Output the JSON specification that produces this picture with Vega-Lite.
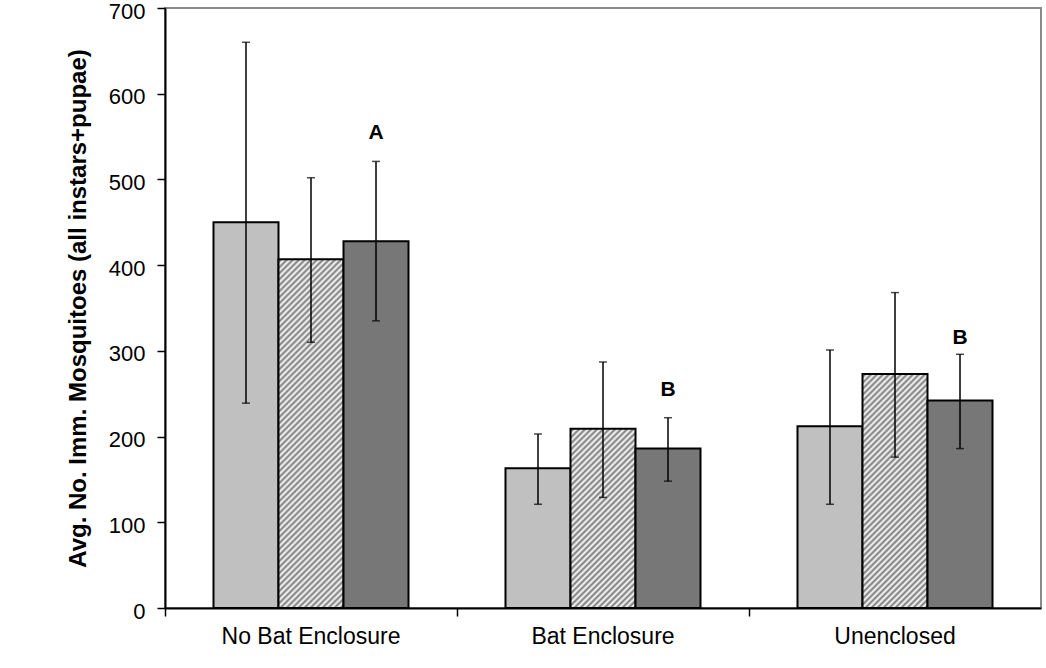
{
  "$schema": "https://vega.github.io/schema/vega-lite/v6.json",
  "width": 876,
  "height": 600,
  "autosize": "none",
  "padding": {"left": 165, "top": 8, "right": 5, "bottom": 60},
  "background": "white",
  "config": {
    "view": {"stroke": "#8a8a8a", "strokeWidth": 2},
    "font": "Liberation Sans"
  },
  "params": [
    {"name": "hatch", "value": [
      {"offset":0,"color":"#fff"},{"offset":0.005,"color":"#777"},{"offset":0.01,"color":"#fff"},{"offset":0.015,"color":"#777"},
      {"offset":0.02,"color":"#fff"},{"offset":0.025,"color":"#777"},{"offset":0.03,"color":"#fff"},{"offset":0.035,"color":"#777"},
      {"offset":0.04,"color":"#fff"},{"offset":0.045,"color":"#777"},{"offset":0.05,"color":"#fff"},{"offset":0.055,"color":"#777"},
      {"offset":0.06,"color":"#fff"},{"offset":0.065,"color":"#777"},{"offset":0.07,"color":"#fff"},{"offset":0.075,"color":"#777"},
      {"offset":0.08,"color":"#fff"},{"offset":0.085,"color":"#777"},{"offset":0.09,"color":"#fff"},{"offset":0.095,"color":"#777"},
      {"offset":0.1,"color":"#fff"},{"offset":0.105,"color":"#777"},{"offset":0.11,"color":"#fff"},{"offset":0.115,"color":"#777"},
      {"offset":0.12,"color":"#fff"},{"offset":0.125,"color":"#777"},{"offset":0.13,"color":"#fff"},{"offset":0.135,"color":"#777"},
      {"offset":0.14,"color":"#fff"},{"offset":0.145,"color":"#777"},{"offset":0.15,"color":"#fff"},{"offset":0.155,"color":"#777"},
      {"offset":0.16,"color":"#fff"},{"offset":0.165,"color":"#777"},{"offset":0.17,"color":"#fff"},{"offset":0.175,"color":"#777"},
      {"offset":0.18,"color":"#fff"},{"offset":0.185,"color":"#777"},{"offset":0.19,"color":"#fff"},{"offset":0.195,"color":"#777"},
      {"offset":0.2,"color":"#fff"},{"offset":0.205,"color":"#777"},{"offset":0.21,"color":"#fff"},{"offset":0.215,"color":"#777"},
      {"offset":0.22,"color":"#fff"},{"offset":0.225,"color":"#777"},{"offset":0.23,"color":"#fff"},{"offset":0.235,"color":"#777"},
      {"offset":0.24,"color":"#fff"},{"offset":0.245,"color":"#777"},{"offset":0.25,"color":"#fff"},{"offset":0.255,"color":"#777"},
      {"offset":0.26,"color":"#fff"},{"offset":0.265,"color":"#777"},{"offset":0.27,"color":"#fff"},{"offset":0.275,"color":"#777"},
      {"offset":0.28,"color":"#fff"},{"offset":0.285,"color":"#777"},{"offset":0.29,"color":"#fff"},{"offset":0.295,"color":"#777"},
      {"offset":0.3,"color":"#fff"},{"offset":0.305,"color":"#777"},{"offset":0.31,"color":"#fff"},{"offset":0.315,"color":"#777"},
      {"offset":0.32,"color":"#fff"},{"offset":0.325,"color":"#777"},{"offset":0.33,"color":"#fff"},{"offset":0.335,"color":"#777"},
      {"offset":0.34,"color":"#fff"},{"offset":0.345,"color":"#777"},{"offset":0.35,"color":"#fff"},{"offset":0.355,"color":"#777"},
      {"offset":0.36,"color":"#fff"},{"offset":0.365,"color":"#777"},{"offset":0.37,"color":"#fff"},{"offset":0.375,"color":"#777"},
      {"offset":0.38,"color":"#fff"},{"offset":0.385,"color":"#777"},{"offset":0.39,"color":"#fff"},{"offset":0.395,"color":"#777"},
      {"offset":0.4,"color":"#fff"},{"offset":0.405,"color":"#777"},{"offset":0.41,"color":"#fff"},{"offset":0.415,"color":"#777"},
      {"offset":0.42,"color":"#fff"},{"offset":0.425,"color":"#777"},{"offset":0.43,"color":"#fff"},{"offset":0.435,"color":"#777"},
      {"offset":0.44,"color":"#fff"},{"offset":0.445,"color":"#777"},{"offset":0.45,"color":"#fff"},{"offset":0.455,"color":"#777"},
      {"offset":0.46,"color":"#fff"},{"offset":0.465,"color":"#777"},{"offset":0.47,"color":"#fff"},{"offset":0.475,"color":"#777"},
      {"offset":0.48,"color":"#fff"},{"offset":0.485,"color":"#777"},{"offset":0.49,"color":"#fff"},{"offset":0.495,"color":"#777"},
      {"offset":0.5,"color":"#fff"},{"offset":0.505,"color":"#777"},{"offset":0.51,"color":"#fff"},{"offset":0.515,"color":"#777"},
      {"offset":0.52,"color":"#fff"},{"offset":0.525,"color":"#777"},{"offset":0.53,"color":"#fff"},{"offset":0.535,"color":"#777"},
      {"offset":0.54,"color":"#fff"},{"offset":0.545,"color":"#777"},{"offset":0.55,"color":"#fff"},{"offset":0.555,"color":"#777"},
      {"offset":0.56,"color":"#fff"},{"offset":0.565,"color":"#777"},{"offset":0.57,"color":"#fff"},{"offset":0.575,"color":"#777"},
      {"offset":0.58,"color":"#fff"},{"offset":0.585,"color":"#777"},{"offset":0.59,"color":"#fff"},{"offset":0.595,"color":"#777"},
      {"offset":0.6,"color":"#fff"},{"offset":0.605,"color":"#777"},{"offset":0.61,"color":"#fff"},{"offset":0.615,"color":"#777"},
      {"offset":0.62,"color":"#fff"},{"offset":0.625,"color":"#777"},{"offset":0.63,"color":"#fff"},{"offset":0.635,"color":"#777"},
      {"offset":0.64,"color":"#fff"},{"offset":0.645,"color":"#777"},{"offset":0.65,"color":"#fff"},{"offset":0.655,"color":"#777"},
      {"offset":0.66,"color":"#fff"},{"offset":0.665,"color":"#777"},{"offset":0.67,"color":"#fff"},{"offset":0.675,"color":"#777"},
      {"offset":0.68,"color":"#fff"},{"offset":0.685,"color":"#777"},{"offset":0.69,"color":"#fff"},{"offset":0.695,"color":"#777"},
      {"offset":0.7,"color":"#fff"}
    ]}
  ],
  "datasets": {
    "bars": [
      {"group":"No Bat Enclosure","series":"s1","mean":450,"lo":239,"hi":660},
      {"group":"No Bat Enclosure","series":"s2","mean":407,"lo":310,"hi":502},
      {"group":"No Bat Enclosure","series":"s3","mean":428,"lo":335,"hi":521},
      {"group":"Bat Enclosure","series":"s1","mean":163,"lo":121,"hi":203},
      {"group":"Bat Enclosure","series":"s2","mean":209,"lo":129,"hi":287},
      {"group":"Bat Enclosure","series":"s3","mean":186,"lo":148,"hi":222},
      {"group":"Unenclosed","series":"s1","mean":212,"lo":121,"hi":301},
      {"group":"Unenclosed","series":"s2","mean":273,"lo":176,"hi":368},
      {"group":"Unenclosed","series":"s3","mean":242,"lo":186,"hi":296}
    ],
    "letters": [
      {"group":"No Bat Enclosure","series":"s3","letter":"A","pos":554},
      {"group":"Bat Enclosure","series":"s3","letter":"B","pos":254},
      {"group":"Unenclosed","series":"s3","letter":"B","pos":315}
    ]
  },
  "encoding": {
    "x": {
      "field": "group", "type": "nominal", "sort": null,
      "scale": {"domain": ["No Bat Enclosure","Bat Enclosure","Unenclosed"], "paddingInner": 0, "paddingOuter": 0},
      "axis": {
        "title": null, "labelAngle": 0, "bandPosition": 0,
        "domainColor": "#000", "domainWidth": 2,
        "tickColor": "#000", "tickWidth": 1.5, "tickSize": 8,
        "labelFontSize": 23, "labelColor": "#000", "labelFont": "Liberation Sans", "labelPadding": 9
      }
    },
    "xOffset": {
      "field": "series", "type": "nominal",
      "scale": {"domain": ["s1","s2","s3"], "paddingInner": 0, "paddingOuter": 0.746}
    }
  },
  "layer": [
    {
      "data": {"name": "bars"},
      "mark": {"type": "bar", "stroke": "#000", "strokeWidth": 2},
      "encoding": {
        "y": {
          "field": "mean", "type": "quantitative",
          "scale": {"domain": [0, 700], "nice": false},
          "axis": {
            "title": "Avg. No. Imm. Mosquitoes (all instars+pupae)",
            "titleFont": "Liberation Sans", "titleFontSize": 24, "titleFontWeight": "bold", "titleColor": "#000", "titlePadding": 18,
            "values": [0,100,200,300,400,500,600,700],
            "grid": false, "domainColor": "#000", "domainWidth": 2,
            "tickColor": "#000", "tickWidth": 1.5, "tickSize": 8,
            "labelFontSize": 22, "labelColor": "#000", "labelFont": "Liberation Sans", "labelPadding": 12, "labelOffset": 3
          }
        },
        "fill": {
          "condition": [
            {"test": "datum.series === 's2' && datum.group === 'No Bat Enclosure'", "value": {"expr": "{gradient: 'linear', x1: 0, y1: 0, x2: 0.309, y2: 1.661, stops: hatch}"}},
            {"test": "datum.series === 's2' && datum.group === 'Bat Enclosure'", "value": {"expr": "{gradient: 'linear', x1: 0, y1: 0, x2: 1.073, y2: 2.958, stops: hatch}"}},
            {"test": "datum.series === 's2' && datum.group === 'Unenclosed'", "value": {"expr": "{gradient: 'linear', x1: 0, y1: 0, x2: 0.661, y2: 2.378, stops: hatch}"}}
          ],
          "field": "series", "type": "nominal",
          "scale": {"domain": ["s1","s2","s3"], "range": ["#c0c0c0","#ffffff","#777777"]},
          "legend": null
        }
      }
    },
    {
      "data": {"name": "bars"},
      "mark": {"type": "rule", "color": "#000", "strokeWidth": 1.5},
      "encoding": {
        "y": {"field": "lo", "type": "quantitative"},
        "y2": {"field": "hi"}
      }
    },
    {
      "data": {"name": "bars"},
      "mark": {"type": "tick", "color": "#000", "thickness": 1.5, "size": 8, "orient": "horizontal"},
      "encoding": {
        "y": {"field": "hi", "type": "quantitative"}
      }
    },
    {
      "data": {"name": "bars"},
      "mark": {"type": "tick", "color": "#000", "thickness": 1.5, "size": 8, "orient": "horizontal"},
      "encoding": {
        "y": {"field": "lo", "type": "quantitative"}
      }
    },
    {
      "data": {"name": "letters"},
      "mark": {"type": "text", "font": "Liberation Sans", "fontWeight": "bold", "fontSize": 21, "color": "#000", "baseline": "middle", "align": "center"},
      "encoding": {
        "y": {"field": "pos", "type": "quantitative"},
        "text": {"field": "letter"}
      }
    }
  ]
}
